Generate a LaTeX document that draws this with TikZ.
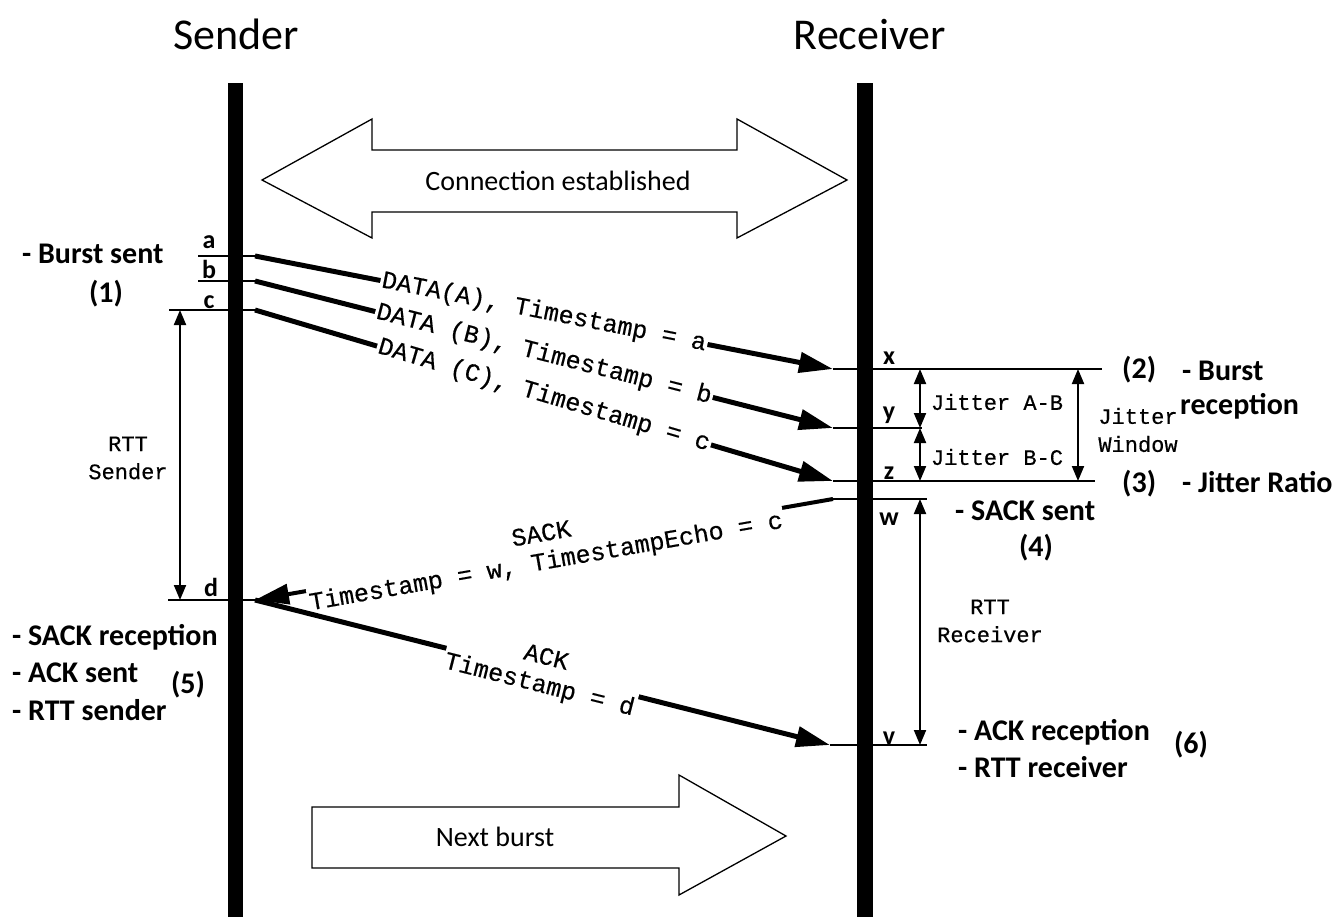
\documentclass[tikz,border=0pt]{standalone}
\usepackage{fontspec}
\setmainfont{Carlito}
\setmonofont{Liberation Mono}[FakeBold=0.4]
\usetikzlibrary{arrows.meta}
\tikzset{
  lifeline/.style={fill=black, draw=none},
  tick/.style={line width=2pt},
  msg/.style={line width=5pt, -{Triangle[length=34pt,width=20pt]}},
  msgthin/.style={line width=4pt, -{Triangle[length=34pt,width=20pt]}},
  msglbl/.style={sloped, fill=white, inner sep=1.5pt, align=center,
    font=\fontsize{25}{28}\selectfont\ttfamily},
  spanarrow/.style={line width=2pt, {Triangle[length=15pt,width=12pt]}-{Triangle[length=15pt,width=12pt]}},
  monolbl/.style={font=\fontsize{22}{28}\selectfont\ttfamily, align=center, inner sep=0pt},
  evt/.style={font=\fontsize{30}{37}\selectfont\bfseries, inner sep=0pt, anchor=base west},
  num/.style={font=\fontsize{30}{37}\selectfont\bfseries, inner sep=0pt, anchor=base},
  tlbl/.style={font=\fontsize{26}{30}\selectfont\bfseries, inner sep=0pt, anchor=base},
  hdr/.style={font=\fontsize{44}{50}\selectfont, inner sep=0pt, anchor=base},
  bigarrow/.style={draw, line width=1.3pt, fill=white, line join=miter},
  bigtext/.style={font=\fontsize{28}{34}\selectfont, inner sep=0pt, anchor=base},
}
\begin{document}
\begin{tikzpicture}[x=1pt, y=-1pt]
\useasboundingbox[fill=white] (0,0) rectangle (1343,917);

% headers
\node[hdr] (sender) at (236,50) {Sender};
\node[hdr] (receiver) at (870,50) {Receiver};

% lifelines
\fill[lifeline] (228,83) rectangle (243,917);
\fill[lifeline] (857,83) rectangle (873,917);

% connection established
\draw[bigarrow] (262,180) -- (372,119) -- (372,150) -- (737,150) -- (737,119)
  -- (847,180) -- (737,238) -- (737,212) -- (372,212) -- (372,238) -- cycle;
\node[bigtext] (conn) at (558,191) {Connection established};

% next burst
\draw[bigarrow] (312,807) -- (679,807) -- (679,775) -- (786,836) -- (679,895)
  -- (679,868) -- (312,868) -- cycle;
\node[bigtext] (next) at (495,846) {Next burst};

% coordinates of events
\coordinate (aL) at (198,256); \coordinate (aR) at (255,256);
\coordinate (bL) at (198,281); \coordinate (bR) at (255,281);
\coordinate (cL) at (169,310); \coordinate (cR) at (255,310);
\coordinate (dL) at (168,600); \coordinate (dR) at (255,600);
\coordinate (xL) at (833,369); \coordinate (xR) at (1102,369);
\coordinate (yL) at (833,428); \coordinate (yR) at (922,428);
\coordinate (zL) at (833,481); \coordinate (zR) at (1095,481);
\coordinate (wL) at (833,499); \coordinate (wR) at (927,499);
\coordinate (vL) at (830,745); \coordinate (vR) at (927,745);

% tick lines
\draw[tick] (aL) -- (aR);
\draw[tick] (bL) -- (bR);
\draw[tick] (cL) -- (cR);
\draw[tick] (dL) -- (dR);
\draw[tick] (xL) -- (xR);
\draw[tick] (yL) -- (yR);
\draw[tick] (zL) -- (zR);
\draw[tick] (wL) -- (wR);
\draw[tick] (vL) -- (vR);

% tick labels
\node[tlbl] (la) at (209,249) {a};
\node[tlbl] (lb) at (209,279) {b};
\node[tlbl] (lc) at (209,308) {c};
\node[tlbl] (ld) at (211,596) {d};
\node[tlbl] (lx) at (889,364) {x};
\node[tlbl] (ly) at (889,419) {y};
\node[tlbl] (lz) at (889,479) {z};
\node[tlbl] (lw) at (889,525) {w};
\node[tlbl] (lv) at (889,744) {v};

% data messages
\draw[msg] (aR) -- (xL) node[msglbl, pos=0.5] (dataA) {DATA(A), Timestamp = a};
\draw[msg] (bR) -- (yL) node[msglbl, pos=0.5] (dataB) {DATA (B), Timestamp = b};
\draw[msg] (cR) -- (zL) node[msglbl, pos=0.5] (dataC) {DATA (C), Timestamp = c};

% SACK and ACK
\draw[msgthin] (wL) -- (dR) node[msglbl, pos=0.5] (sack) {SACK\\Timestamp = w, TimestampEcho = c};
\draw[msg] (dR) -- (vL) node[msglbl, pos=0.5] (ack) {ACK\\Timestamp = d};

% spans
\coordinate (rs1) at (180,310); \coordinate (rs2) at (180,600);
\draw[spanarrow] (rs1) -- (rs2);
\node[monolbl] (rttS) at (128,458) {RTT\\Sender};

\coordinate (jab1) at (920,369); \coordinate (jab2) at (920,428); \coordinate (jbc2) at (920,481);
\draw[spanarrow] (jab1) -- (jab2);
\draw[spanarrow] (jab2) -- (jbc2);
\node[monolbl] (jAB) at (997,402) {Jitter A-B};
\node[monolbl] (jBC) at (997,457) {Jitter B-C};

\coordinate (jw1) at (1078,369); \coordinate (jw2) at (1078,481);
\draw[spanarrow] (jw1) -- (jw2);
\node[monolbl] (jW) at (1138,430) {Jitter\\Window};

\coordinate (rr1) at (920,499); \coordinate (rr2) at (920,745);
\draw[spanarrow] (rr1) -- (rr2);
\node[monolbl] (rttR) at (990,621) {RTT\\Receiver};

% event descriptions
\node[evt] (e1) at (22,263) {- Burst sent};
\node[num] (n1) at (106,302) {(1)};

\node[num, anchor=base west] (n2) at (1122,378) {(2)};
\node[evt] (e2a) at (1182,380) {- Burst};
\node[evt] (e2b) at (1180,414) {reception};

\node[num, anchor=base west] (n3) at (1122,492) {(3)};
\node[evt] (e3) at (1182,492) {- Jitter Ratio};

\node[evt] (e4) at (955,520) {- SACK sent};
\node[num] (n4) at (1036,556) {(4)};

\node[evt] (e5a) at (12,645) {- SACK reception};
\node[evt] (e5b) at (12,682) {- ACK sent};
\node[evt] (e5c) at (12,720) {- RTT sender};
\node[num] (n5) at (188,693) {(5)};

\node[evt] (e6a) at (958,740) {- ACK reception};
\node[evt] (e6b) at (958,777) {- RTT receiver};
\node[num] (n6) at (1191,753) {(6)};
\end{tikzpicture}
\end{document}
